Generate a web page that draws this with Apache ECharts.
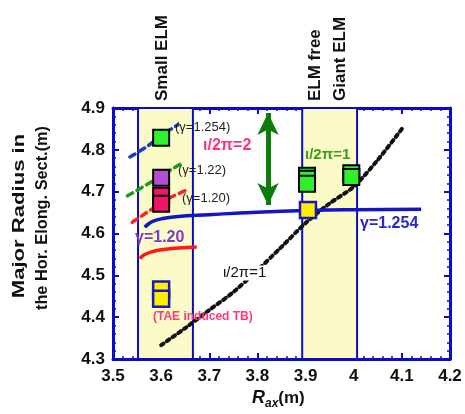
<!DOCTYPE html>
<html><head><meta charset="utf-8">
<script src="https://cdn.jsdelivr.net/npm/echarts@6/dist/echarts.min.js"></script>
<style>html,body{margin:0;padding:0;background:#fff}#c{width:465px;height:414px}</style>
</head><body><div id="c"></div>
<script>
// ---- data ----
var xTicks = [3.5, 3.6, 3.7, 3.8, 3.9, 4.0, 4.1, 4.2];
var yTicks = [4.3, 4.4, 4.5, 4.6, 4.7, 4.8, 4.9];
var smallElmRange = [3.552, 3.666];
var elmFreeRange = [3.893, 4.007];
// iota/2pi = 1 (black dotted)
var iota1X = [3.60, 3.65, 3.70, 3.75, 3.80, 3.85, 3.90, 3.95, 4.00, 4.05, 4.10];
var iota1Y = [4.333, 4.374, 4.417, 4.460, 4.512, 4.568, 4.625, 4.672, 4.712, 4.776, 4.850];
// gamma=1.254 solid blue
var g1254X = [3.566, 3.575, 3.585, 3.60, 3.63, 3.70, 3.80, 3.90, 4.00, 4.14];
var g1254Y = [4.615, 4.624, 4.630, 4.635, 4.640, 4.645, 4.651, 4.655, 4.657, 4.658];
// gamma=1.20 solid red
var g120X = [3.556, 3.565, 3.58, 3.60, 3.63, 3.674];
var g120Y = [4.540, 4.549, 4.556, 4.561, 4.565, 4.568];
// iota/2pi = 2 dashed lines
var d1254X = [3.535, 3.56, 3.59, 3.615, 3.635];
var d1254Y = [4.783, 4.800, 4.824, 4.845, 4.860];
var d122X = [3.53, 3.56, 3.60, 3.643];
var d122Y = [4.690, 4.710, 4.738, 4.768];
var d120X = [3.54, 3.57, 3.61, 3.655];
var d120Y = [4.627, 4.650, 4.680, 4.705];
// squares
var greenSqX = [3.60, 3.903, 3.903, 3.903, 3.995, 3.995];
var greenSqY = [4.829, 4.738, 4.731, 4.719, 4.744, 4.735];
var purpleSqX = [3.60];
var purpleSqY = [4.733];
var pinkSqX = [3.60, 3.60];
var pinkSqY = [4.690, 4.671];
var yellowSqX = [3.60, 3.60, 3.905];
var yellowSqY = [4.466, 4.444, 4.656];
// arrow
var arrowX = 3.822;
var arrowY = [4.888, 4.668];

function zip(a, b) { return a.map(function (v, i) { return [v, b[i]]; }); }

var FONT = '"Liberation Sans", Arial, sans-serif';
var AX = '#0a0acc';

var chart = echarts.init(document.getElementById('c'), null, {renderer: 'canvas'});

function valAxis(pos, min, max, showLabel, isX) {
  return {
    type: 'value', position: pos, min: min, max: max, interval: 0.1,
    axisLine: {show: true, onZero: false, lineStyle: {color: AX, width: 3}},
    axisTick: {show: true, inside: true, length: 6, lineStyle: {color: AX, width: 2}},
    minorTick: {show: true, splitNumber: 5, length: 3, lineStyle: {color: AX, width: 1.5}},
    splitLine: {show: false},
    axisLabel: {show: showLabel, color: '#111', fontFamily: FONT, fontWeight: 'bold', fontSize: 17, margin: isX ? 9 : 8,
      formatter: function (v) { return String(Math.round(v * 10) / 10); }}
  };
}

var lineBase = {type: 'line', showSymbol: false, symbol: 'none', silent: true, z: 3, smooth: true};

var option = {
  animation: false,
  grid: {left: 113, right: 15, top: 108, bottom: 55},
  xAxis: [valAxis('bottom', 3.5, 4.2, true, true), valAxis('top', 3.5, 4.2, false, true)],
  yAxis: [valAxis('left', 4.3, 4.9, true, false), valAxis('right', 4.3, 4.9, false, false)],
  series: [
    {type: 'line', data: [], silent: true, z: 1,
     markArea: {silent: true, itemStyle: {color: '#fbfbc8', borderColor: AX, borderWidth: 2},
       data: [[{xAxis: smallElmRange[0], yAxis: 4.3}, {xAxis: smallElmRange[1], yAxis: 4.9}],
              [{xAxis: elmFreeRange[0], yAxis: 4.3}, {xAxis: elmFreeRange[1], yAxis: 4.9}]]}},
    Object.assign({}, lineBase, {data: zip(iota1X, iota1Y), smooth: 0.3,
      lineStyle: {color: '#111', width: 4, type: [3, 4], cap: 'round'}}),
    Object.assign({}, lineBase, {data: zip(g1254X, g1254Y),
      lineStyle: {color: '#1414c8', width: 3.5}}),
    Object.assign({}, lineBase, {data: zip(g120X, g120Y),
      lineStyle: {color: '#ff1a1a', width: 3.5}}),
    Object.assign({}, lineBase, {data: zip(d1254X, d1254Y),
      lineStyle: {color: '#1a3ad0', width: 3.5, type: [6, 5], cap: 'round'}}),
    Object.assign({}, lineBase, {data: zip(d122X, d122Y),
      lineStyle: {color: '#1f9a1f', width: 3.5, type: [6, 5], cap: 'round'}}),
    Object.assign({}, lineBase, {data: zip(d120X, d120Y),
      lineStyle: {color: '#ff2020', width: 3.5, type: [6, 5], cap: 'round'}}),
    {type: 'scatter', symbol: 'rect', symbolSize: 16, z: 5, silent: true, data: zip(greenSqX, greenSqY),
     itemStyle: {color: '#2ef02e', borderColor: '#000', borderWidth: 2, opacity: 1}},
    {type: 'scatter', symbol: 'rect', symbolSize: 16, z: 5, silent: true, data: zip(purpleSqX, purpleSqY),
     itemStyle: {color: '#b04fd0', borderColor: '#000', borderWidth: 2, opacity: 1}},
    {type: 'scatter', symbol: 'rect', symbolSize: 16, z: 5, silent: true, data: zip(pinkSqX, pinkSqY),
     itemStyle: {color: '#f2146a', borderColor: '#000', borderWidth: 2, opacity: 1}},
    {type: 'scatter', symbol: 'rect', symbolSize: 16, z: 5, silent: true, data: zip(yellowSqX, yellowSqY),
     itemStyle: {color: '#ffee00', borderColor: '#1a1ab0', borderWidth: 2.5, opacity: 1}},
    {type: 'line', data: [], silent: true, z: 4,
     markLine: {silent: true, symbol: ['arrow', 'arrow'], symbolSize: [16, 22],
       lineStyle: {color: '#0b7d0b', width: 5, type: 'solid'}, label: {show: false},
       data: [[{coord: [arrowX, arrowY[0]]}, {coord: [arrowX, arrowY[1]]}]]}}
  ],
  graphic: []
};

function txt(x, y, text, opt) {
  return {type: 'text', x: x, y: y, z: 100, silent: true,
    style: Object.assign({text: text, fontFamily: FONT, fontSize: 15, fontWeight: 'bold', fill: '#111',
      verticalAlign: 'middle'}, opt || {})};
}
function vtxt(cx, by, text, size) {
  return {type: 'text', x: cx, y: by, rotation: Math.PI / 2, z: 100, silent: true,
    style: {text: text, fontFamily: FONT, fontSize: size || 17, fontWeight: 'bold', fill: '#111',
      align: 'left', verticalAlign: 'middle'}};
}
option.graphic = [
  vtxt(162, 101, 'Small ELM'),
  vtxt(315, 101, 'ELM free'),
  vtxt(340, 101, 'Giant ELM'),
  {type: 'text', x: 20, y: 216, rotation: Math.PI / 2, scaleX: 1.38, z: 100, silent: true,
   style: {text: 'Major Radius in', fontFamily: FONT, fontSize: 16, fontWeight: 'bold', fill: '#111', align: 'center', verticalAlign: 'middle'}},
  {type: 'text', x: 43, y: 218, rotation: Math.PI / 2, scaleX: 1.02, z: 100, silent: true,
   style: {text: 'the Hor. Elong. Sect.(m)', fontFamily: FONT, fontSize: 16, fontWeight: 'bold', fill: '#111', align: 'center', verticalAlign: 'middle'}},
  {type: 'text', x: 252, y: 398, z: 100, silent: true,
   style: {text: '{r|R}{s|ax}{m|(m)}', fontFamily: FONT, verticalAlign: 'middle',
     rich: {r: {fontSize: 18, fontWeight: 'bold', fontStyle: 'italic', fill: '#111', fontFamily: FONT},
            s: {fontSize: 12, fontWeight: 'bold', fontStyle: 'italic', fill: '#111', fontFamily: FONT, padding: [11, 0, 0, 0]},
            m: {fontSize: 17, fontWeight: 'bold', fill: '#111', fontFamily: FONT}}}},
  txt(175, 127, '(γ=1.254)', {fontSize: 13, fontWeight: 'normal', fill: '#222'}),
  txt(178, 170, '(γ=1.22)', {fontSize: 13, fontWeight: 'normal', fill: '#222'}),
  txt(182, 198, '(γ=1.20)', {fontSize: 13, fontWeight: 'normal', fill: '#222'}),
  txt(203, 146, 'ι/2π=2', {fontSize: 16, fill: '#ff3373'}),
  txt(135, 238, 'γ=1.20', {fontSize: 16, fill: '#7a3ad2'}),
  txt(305, 155, 'ι/2π=1', {fontSize: 15, fill: '#3f9a1f'}),
  txt(360, 224, 'γ=1.254', {fontSize: 16, fill: '#2828cc'}),
  txt(222, 273, 'ι/2π=1', {fontSize: 15, fontWeight: 'normal', fill: '#111', backgroundColor: '#fff', padding: [0, 1, 0, 1]}),
  txt(153, 317, '(TAE induced TB)', {fontSize: 12, fill: '#ff3a7a'})
];

chart.setOption(option);
</script>
</body></html>
